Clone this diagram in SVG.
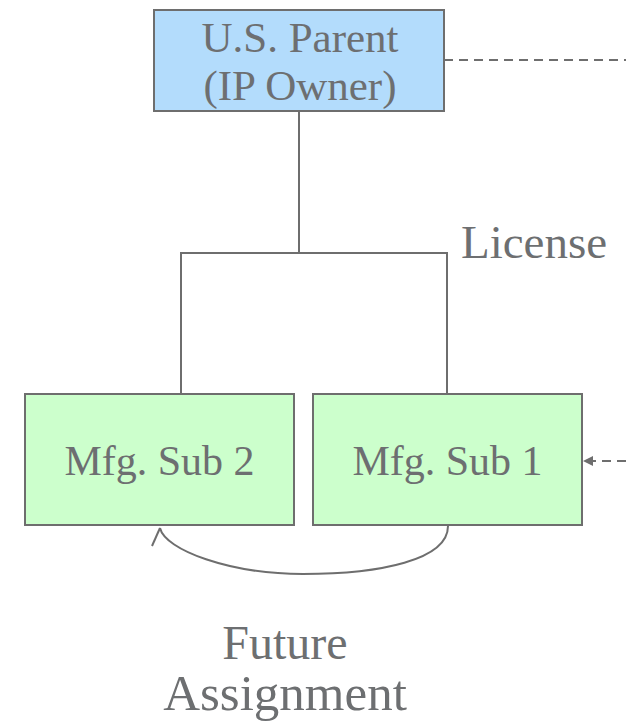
<svg xmlns="http://www.w3.org/2000/svg" width="626" height="722" viewBox="0 0 626 722">
<style>
.box{stroke:#6e6e6e;stroke-width:2}
.t{font-family:"Liberation Serif","Times New Roman",serif;fill:#6d6f71;text-anchor:middle}
.ln{fill:none;stroke:#6e6e6e;stroke-width:2}
</style>
<defs>
<marker id="fa" viewBox="0 0 10 10" refX="9" refY="5" markerWidth="5" markerHeight="5" orient="auto-start-reverse" markerUnits="strokeWidth">
<path d="M0,0 L10,5 L0,10 z" fill="#6e6e6e"/>
</marker>
</defs>
<g id="parent">
<rect class="box" x="154" y="10" width="290" height="101" fill="#b3dcfc"/>
<text class="t" x="300" y="52" font-size="43">U.S. Parent</text>
<text class="t" x="300" y="100" font-size="43">(IP Owner)</text>
</g>
<g id="sub2">
<rect class="box" x="25" y="394" width="269" height="131" fill="#ccffcc"/>
<text class="t" x="159.5" y="475" font-size="42">Mfg. Sub 2</text>
</g>
<g id="sub1">
<rect class="box" x="313" y="394" width="269" height="131" fill="#ccffcc"/>
<text class="t" x="447.5" y="475" font-size="42">Mfg. Sub 1</text>
</g>
<g id="connectors">
<path class="ln" d="M299,111 V253 M181,394 V253 H447 V394"/>
<path class="ln" d="M444,60 H626" stroke-dasharray="9,6"/>
<path class="ln" d="M626,461 H584" stroke-dasharray="9,6" marker-end="url(#fa)"/>
<path class="ln" d="M448,526 C448,560 380,574 303,574 C230,574 165,550 160,528"/>
<path class="ln" d="M160,528 L152,546"/>
</g>
<g id="labels">
<text class="t" x="534" y="258" font-size="47">License</text>
<text class="t" x="285" y="659" font-size="48">Future</text>
<text class="t" x="285" y="710" font-size="51">Assignment</text>
</g>
</svg>
